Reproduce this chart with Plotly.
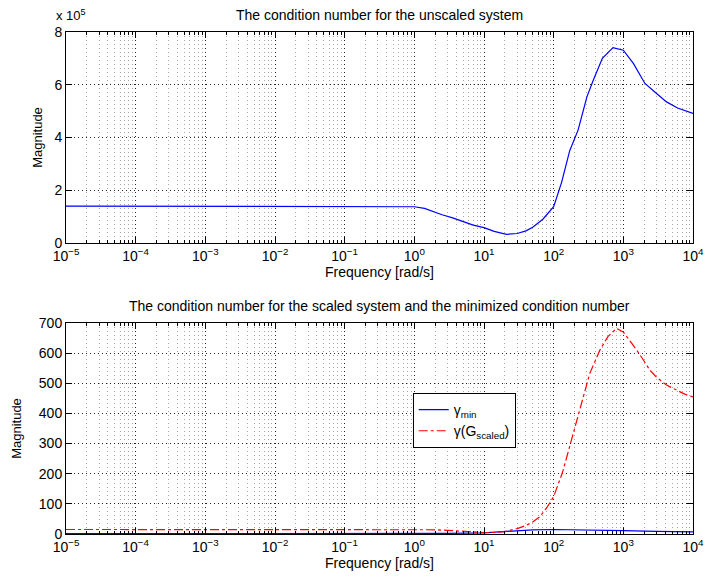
import plotly.graph_objects as go

# ---- data ----
freq_top = [1e-5, 1e-3, 1e-1, 0.5, 1.0, 1.4, 1.86, 2.5, 3.55, 5.0, 7.0, 10.0, 14.0, 21.0, 30.0, 40.0, 50.0, 70.0, 100.0,
            130.0, 170.0, 224.0, 300.0, 370.0, 500.0, 710.0, 1000.0, 1400.0, 2040.0, 3000.0, 4170.0, 6000.0, 1e4]
cond_unscaled = [1.4e5, 1.4e5, 1.4e5, 1.395e5, 1.375e5, 1.31e5, 1.19e5, 1.07e5, 0.95e5, 0.8e5, 0.68e5, 0.58e5, 0.44e5,
                 0.33e5, 0.36e5, 0.46e5, 0.6e5, 0.9e5, 1.38e5, 2.3e5, 3.5e5, 4.28e5, 5.54e5, 6.17e5, 7.0e5, 7.41e5,
                 7.31e5, 6.8e5, 6.05e5, 5.67e5, 5.35e5, 5.12e5, 4.91e5]

freq_min = [1e-5, 1e-2, 1.0, 3.0, 10.0, 20.0, 30.0, 50.0, 100.0, 200.0, 300.0, 1000.0, 3000.0, 1e4]
gamma_min = [1, 1, 1.5, 2, 4, 8, 11, 14, 15, 14.5, 14, 11, 9, 7]

freq_sc = [1e-5, 1e-2, 1.0, 2.0, 3.0, 5.0, 7.0, 10.0, 14.0, 20.0, 30.0, 40.0, 50.0, 63.0, 80.0, 100.0, 135.0, 190.0,
           260.0, 330.0, 460.0, 600.0, 800.0, 1000.0, 1300.0, 1740.0, 2400.0, 3000.0, 4170.0, 6000.0, 7600.0, 1e4]
gamma_scaled = [15, 15, 15, 14, 12, 9, 6, 5, 5, 8, 18, 28, 40, 57, 88, 124, 207, 334, 445, 533, 610, 655, 682, 670,
                635, 594, 544, 520, 494, 475, 464, 455]

xtick_vals = [1e-5, 1e-4, 1e-3, 1e-2, 1e-1, 1, 10, 100, 1e3, 1e4]
xtick_text = ["10<sup>\u22125</sup>", "10<sup>\u22124</sup>", "10<sup>\u22123</sup>", "10<sup>\u22122</sup>",
              "10<sup>\u22121</sup>", "10<sup>0</sup>", "10<sup>1</sup>", "10<sup>2</sup>", "10<sup>3</sup>", "10<sup>4</sup>"]
ytop_vals = [0, 2e5, 4e5, 6e5, 8e5]
ytop_text = ["0", "2", "4", "6", "8"]
ybot_vals = [0, 100, 200, 300, 400, 500, 600, 700]

minor_vals = [m * 10.0 ** e for e in range(-5, 4) for m in range(2, 10)]

FONT = "Liberation Sans, Arial, Helvetica, sans-serif"

fig = go.Figure()
fig.add_trace(go.Scatter(x=freq_top, y=cond_unscaled, mode="lines", line=dict(color="blue", width=1.2),
                         xaxis="x", yaxis="y", showlegend=False))
fig.add_trace(go.Scatter(x=freq_min, y=gamma_min, mode="lines", name="\u03b3<sub>min</sub>",
                         line=dict(color="blue", width=1.2), xaxis="x2", yaxis="y2"))
fig.add_trace(go.Scatter(x=freq_sc, y=gamma_scaled, mode="lines", name="\u03b3(G<sub>scaled</sub>)",
                         line=dict(color="red", width=1.2, dash="dashdot"), xaxis="x2", yaxis="y2"))

grid = dict(showgrid=True, gridcolor="rgba(0,0,0,0.85)", griddash="1px,3px", gridwidth=1)
common_x = dict(type="log", range=[-5, 4], tickvals=xtick_vals, ticktext=xtick_text, automargin=False,
                ticks="inside", ticklen=6, tickcolor="black", showline=True, linecolor="black", linewidth=1, mirror="ticks",
                zeroline=False, tickfont=dict(size=14, color="black", family=FONT),
                minor=dict(tickvals=minor_vals, ticks="inside", ticklen=3, tickcolor="black",
                           showgrid=True, gridcolor="rgba(0,0,0,0.35)", griddash="1px,3px", gridwidth=1),
                title=dict(text="Frequency [rad/s]", font=dict(size=14, color="black", family=FONT), standoff=0),
                **grid)

def ycommon(standoff):
    return dict(ticks="inside", ticklen=6, tickcolor="black", showline=True, linecolor="black", linewidth=1, mirror="ticks",
                zeroline=False, automargin=False, tickfont=dict(size=14, color="black", family=FONT),
                title=dict(text="Magnitude", font=dict(size=13, color="black", family=FONT), standoff=standoff),
                **grid)

fig.update_layout(
    width=705, height=579,
    margin=dict(l=66, r=12, t=32, b=45),
    paper_bgcolor="white", plot_bgcolor="white",
    font=dict(family=FONT, color="black"),
    xaxis=dict(domain=[0, 1], anchor="y", **common_x),
    yaxis=dict(domain=[0.5797, 1], anchor="x", range=[0, 8e5], tickvals=ytop_vals, ticktext=ytop_text, **ycommon(8)),
    xaxis2=dict(domain=[0, 1], anchor="y2", **common_x),
    yaxis2=dict(domain=[0, 0.4203], anchor="x2", range=[0, 700], tickvals=ybot_vals, **ycommon(14)),
    legend=dict(x=0.553, y=0.281, xanchor="left", yanchor="top", bgcolor="white", bordercolor="black", borderwidth=1,
                font=dict(size=14, color="black", family=FONT), tracegroupgap=0),
    annotations=[
        dict(text="The condition number for the unscaled system", x=0.5, y=1, xref="paper", yref="paper",
             xanchor="center", yanchor="bottom", yshift=7, showarrow=False, font=dict(size=14, color="black", family=FONT)),
        dict(text="The condition number for the scaled system and the minimized condition number", x=0.5, y=0.4203,
             xref="paper", yref="paper", xanchor="center", yanchor="bottom", yshift=7, showarrow=False,
             font=dict(size=14, color="black", family=FONT)),
        dict(text="x 10<sup>5</sup>", x=0, y=1, xref="paper", yref="paper", xanchor="left", yanchor="bottom",
             xshift=-12, yshift=7, showarrow=False, font=dict(size=13, color="black", family=FONT)),
    ],
)

fig.write_html("out.html")
